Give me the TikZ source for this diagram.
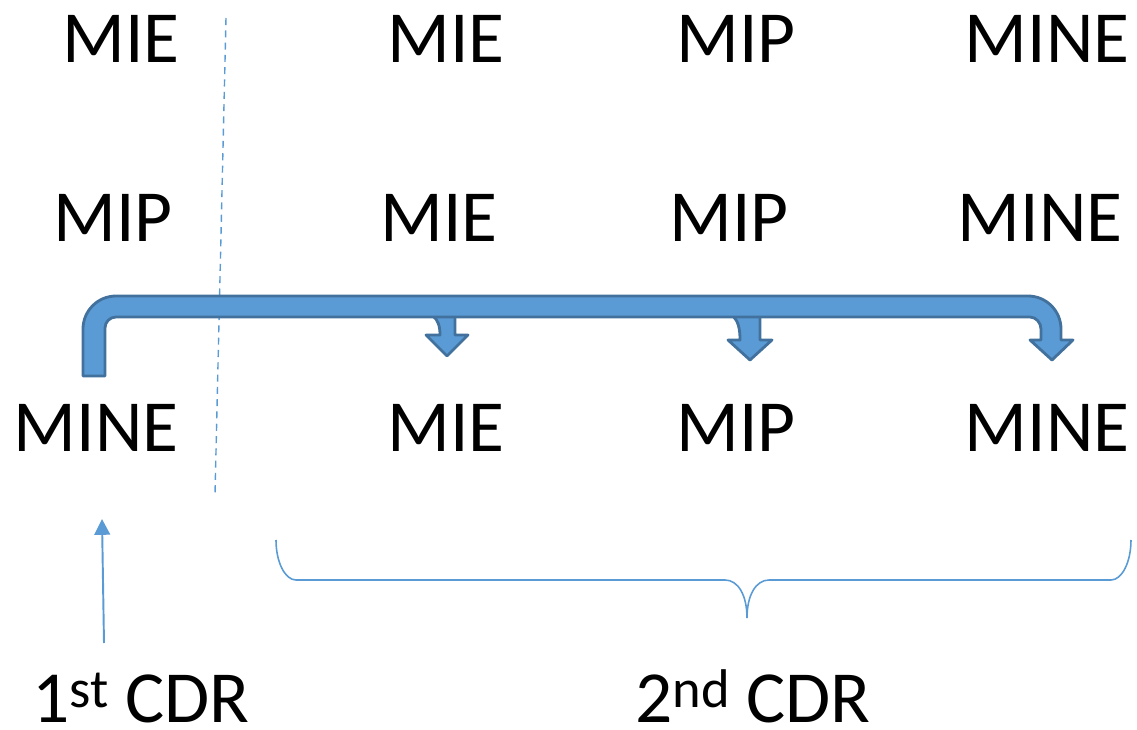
\documentclass[tikz,border=0pt]{standalone}
\usepackage{fontspec}
\setmainfont{Carlito}
\usetikzlibrary{arrows.meta}
\definecolor{acc}{RGB}{91,155,213}
\definecolor{accd}{RGB}{65,113,156}
\newcommand{\supx}[1]{\raisebox{0.3cm}{\fontsize{31}{33}\selectfont #1}}
\tikzset{
  lbl/.style={inner sep=0pt, font=\fontsize{41.8}{48}\selectfont},
  band/.style={fill=acc, draw=accd, line width=1.6pt, line join=round},
  thin/.style={draw=acc, line width=1.1pt}
}
\begin{document}
\begin{tikzpicture}[x=0.02cm,y=-0.02cm]
\useasboundingbox (0,0) rectangle (1137,730);
% row 1
\node[lbl] (a1) at (121,38.5) {MIE};
\node[lbl] (b1) at (446,38.5) {MIE};
\node[lbl] (c1) at (736,38.5) {MIP};
\node[lbl] (d1) at (1047,38.5) {MINE};
% row 2
\node[lbl] (a2) at (113,218) {MIP};
\node[lbl] (b2) at (439,218) {MIE};
\node[lbl] (c2) at (729,218) {MIP};
\node[lbl] (d2) at (1040,218) {MINE};
% row 3
\node[lbl] (a3) at (96,428) {MINE};
\node[lbl] (b3) at (446,428) {MIE};
\node[lbl] (c3) at (736,428) {MIP};
\node[lbl] (d3) at (1047,428) {MINE};
% labels
\node[lbl, anchor=base west] (l1) at (32,722) {1\supx{st} CDR};
\node[lbl, anchor=base] (l2) at (753,722) {2\supx{nd} CDR};
% dashed separator
\coordinate (s1) at (226,18);
\coordinate (s2) at (215,495);
\draw[draw=acc, line width=0.8pt, dash pattern=on 4pt off 3pt] (s1) -- (s2);
% thin arrow
\coordinate (t1) at (104,643);
\coordinate (t2) at (102,519);
\draw[thin, -{Triangle[width=9pt,length=9pt]}] (t1) -- (t2);
% brace
\draw[thin, line width=0.9pt] (276,540) .. controls (276,562) and (285,580) .. (296,580)
  -- (725,580) .. controls (738,580) and (747,595) .. (747,618)
  .. controls (747,595) and (756,580) .. (769,580)
  -- (1111,580) .. controls (1122,580) and (1131,562) .. (1131,540);
% branch stubs
\path[band] (433,316) .. controls (438,320) and (440,326) .. (440,335)
  -- (426,335) -- (447,356) -- (468,335) -- (455,335) -- (455,316) -- cycle;
\path[band] (733,316) .. controls (738,321) and (740,328) .. (740,340)
  -- (728,340) -- (750,360) -- (772,340) -- (760,340) -- (760,316) -- cycle;
% main bent arrow
\path[band] (83,376) -- (83,329) .. controls (83,310.8) and (97.8,296) .. (116,296)
  -- (1028,296) .. controls (1046.2,296) and (1061,310.8) .. (1061,329)
  -- (1061,340) -- (1073,340) -- (1052,360) -- (1030,340) -- (1041,340)
  -- (1041,329) .. controls (1041,322.9) and (1036.1,317) .. (1030,317)
  -- (116,317) .. controls (109.9,317) and (105,321.9) .. (105,328)
  -- (105,376) -- cycle;
\end{tikzpicture}
\end{document}
